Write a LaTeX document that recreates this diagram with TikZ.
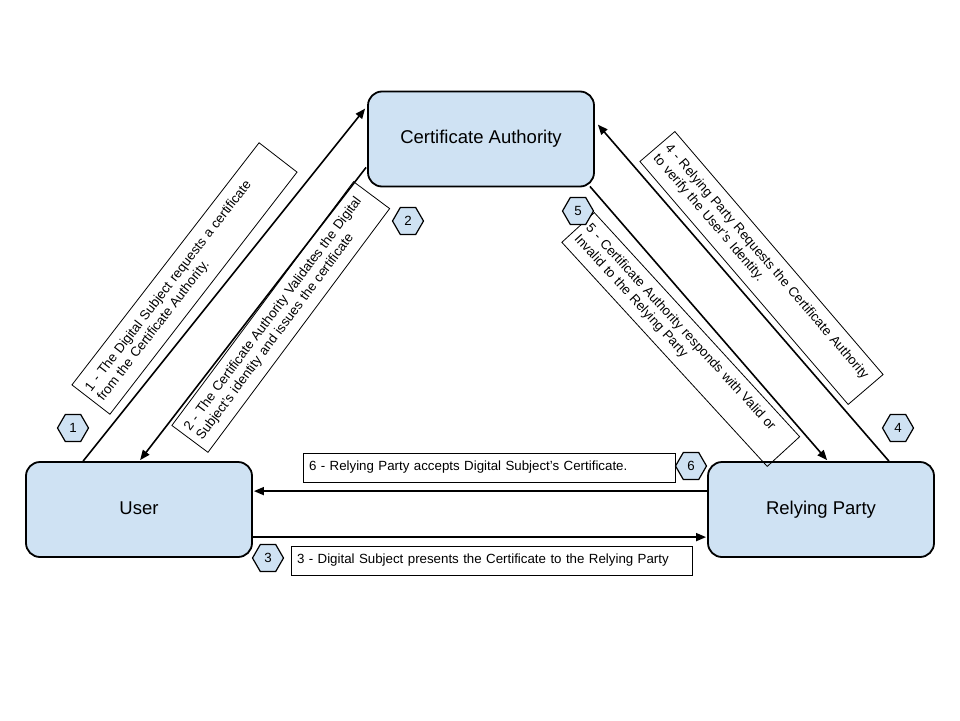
\documentclass[tikz,border=0pt]{standalone}
\usepackage{fontspec}
\setmainfont{Liberation Sans}
\usetikzlibrary{shapes.geometric,arrows.meta,positioning,calc}

\definecolor{partyblue}{HTML}{CFE2F3}

\tikzset{
    party/.style={draw, line width=1.8pt, fill=partyblue, rounded corners=14pt,
        minimum width=226pt, minimum height=95pt, text height=13pt, text depth=4pt,
        font=\fontsize{18.5}{22}\selectfont},
    msgbox/.style={draw, line width=0.8pt, inner xsep=6pt, inner ysep=0pt, align=left,
        font=\fontsize{13.3}{15.5}\selectfont},
    badge/.style={draw, line width=1.2pt, fill=partyblue, regular polygon, regular polygon sides=6,
        minimum size=31pt, inner sep=0pt, font=\fontsize{13.3}{15}\selectfont},
    flow/.style={line width=1.6pt, -{Triangle[length=10pt,width=8pt]}}
}

\begin{document}
\begin{tikzpicture}[x=1pt, y=-1pt]
    \useasboundingbox (0,0) rectangle (960,720);

    % Parties
    \node[party] (ca) at (481,139) {Certificate Authority};
    \node[party] (user) at (139,509.5) {User};
    \node[party] (rp) at (821,509.5) {Relying Party};

    % Flows
    \draw[flow] ($(user.north west)+(58,0)$) -- ($(ca.north west)+(-2,18)$);
    \draw[flow] ($(ca.south west)+(-1,-20)$) -- ($(user.north west)+(115,-1)$);
    \draw[flow] ($(user.north east)+(0,76)$) -- ($(rp.north west)+(-1,76)$);
    \draw[flow] ($(rp.north east)+(-46,0)$) -- ($(ca.north east)+(3,34)$);
    \draw[flow] ($(ca.south east)+(-5,-1)$) -- ($(rp.north west)+(120,-1)$);
    \draw[flow] ($(rp.north west)+(0,30)$) -- ($(user.north east)+(1,30)$);

    % Messages
    \node[msgbox, rotate=52.3, text width=294pt, minimum height=48pt] (m1) at (184.5,278.5)
        {1 - The Digital Subject requests a certificate\\from the Certificate Authority.};
    \node[msgbox, rotate=53.3, text width=292pt, minimum height=45pt] (m2) at (280.75,317)
        {2 - The Certificate Authority Validates the Digital\\Subject's identity and issues the certificate};
    \node[msgbox, text width=389pt, minimum height=29pt] (m3) at (491.5,560.5)
        {3 - Digital Subject presents the Certificate to the Relying Party};
    \node[msgbox, rotate=-49.4, text width=308pt, minimum height=46pt] (m4) at (761.5,268)
        {4 - Relying Party Requests the Certificate Authority\\to verify the User's Identity.};
    \node[msgbox, rotate=-47.5, text width=292pt, minimum height=44pt] (m5) at (680.75,339.5)
        {5 - Certificate Authority responds with Valid or\\Invalid to the Relying Party};
    \node[msgbox, text width=360pt, minimum height=29pt] (m6) at (489,467.5)
        {6 - Relying Party accepts Digital Subject's Certificate.};

    % Step badges
    \foreach \n/\x/\y in {1/73/428, 2/408/221, 3/268/558, 4/898/428, 5/578/211, 6/691/466} {
        \node[badge] (b\n) at (\x,\y) {\n};
    }

\end{tikzpicture}
\end{document}
